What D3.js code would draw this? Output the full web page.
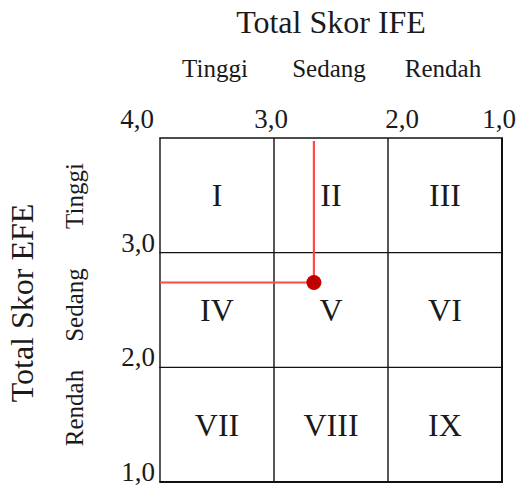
<!DOCTYPE html>
<html>
<head>
<meta charset="utf-8">
<script src="https://cdn.jsdelivr.net/npm/d3@7"></script>
<style>
  html, body { margin: 0; padding: 0; background: #fff; }
  svg text { font-family: "Liberation Serif", "Times New Roman", serif; fill: #1a1a1a; }
</style>
</head>
<body>
<svg id="chart" width="519" height="486"></svg>
<script>
// ---- data ----
const xTicks = [4, 3, 2, 1];
const xTickLabels = ["4,0", "3,0", "2,0", "1,0"];
const yTicks = [3, 2, 1];
const yTickLabels = ["3,0", "2,0", "1,0"];
const ifeCategories = ["Tinggi", "Sedang", "Rendah"];
const efeCategories = ["Tinggi", "Sedang", "Rendah"];
const cellLabels = ["I", "II", "III", "IV", "V", "VI", "VII", "VIII", "IX"];
const ifeScore = [2.65];
const efeScore = [2.74];
const xTitle = "Total Skor IFE";
const yTitle = "Total Skor EFE";

// ---- layout ----
const svg = d3.select("#chart");
const x = d3.scaleLinear().domain([4, 1]).range([160, 502]);
const y = d3.scaleLinear().domain([4, 1]).range([138, 482]);
const bounds = [4, 3, 2, 1];

// grid cells
const cells = [];
for (let r = 0; r < 3; r++) for (let c = 0; c < 3; c++) {
  cells.push({ r, c, label: cellLabels[r * 3 + c] });
}

const g = svg.append("g");

// grid lines
g.selectAll("line.v").data(bounds).enter().append("line")
  .attr("x1", d => x(d)).attr("x2", d => x(d))
  .attr("y1", y(4)).attr("y2", y(1))
  .attr("stroke", "#111").attr("stroke-width", (d, i) => (i === 3 ? 2 : 1.4));
g.selectAll("line.h").data(bounds).enter().append("line")
  .attr("y1", d => y(d)).attr("y2", d => y(d))
  .attr("x1", x(4) - 0.7).attr("x2", x(1) + 1)
  .attr("stroke", "#111").attr("stroke-width", (d, i) => (i === 3 ? 1.8 : 1.4));

// cell labels
g.selectAll("text.cell").data(cells).enter().append("text")
  .attr("x", d => (x(bounds[d.c]) + x(bounds[d.c + 1])) / 2)
  .attr("y", d => (y(bounds[d.r]) + y(bounds[d.r + 1])) / 2 + 11)
  .attr("text-anchor", "middle")
  .attr("font-size", 32)
  .text(d => d.label);

// x tick labels
const xDx = [-6, -3, 14, -3];
const xAnchor = ["end", "middle", "middle", "middle"];
g.selectAll("text.xt").data(xTicks).enter().append("text")
  .attr("x", (d, i) => x(d) + xDx[i])
  .attr("y", 128)
  .attr("text-anchor", (d, i) => xAnchor[i])
  .attr("font-size", 27)
  .text((d, i) => xTickLabels[i]);

// y tick labels
g.selectAll("text.yt").data(yTicks).enter().append("text")
  .attr("x", x(4) - 5)
  .attr("y", d => y(d) - 1)
  .attr("text-anchor", "end")
  .attr("font-size", 27)
  .text((d, i) => yTickLabels[i]);

// IFE category labels (top)
g.selectAll("text.ifecat").data(ifeCategories).enter().append("text")
  .attr("x", (d, i) => (x(bounds[i]) + x(bounds[i + 1])) / 2 - 2)
  .attr("y", 77)
  .attr("text-anchor", "middle")
  .attr("font-size", 25)
  .text(d => d);

// EFE category labels (left, rotated)
const efeCy = [196, 305, 408];
g.selectAll("text.efecat").data(efeCategories).enter().append("text")
  .attr("transform", (d, i) => `translate(83,${efeCy[i]}) rotate(-90)`)
  .attr("text-anchor", "middle")
  .attr("font-size", 25)
  .text(d => d);

// titles
g.append("text").attr("x", 331).attr("y", 33)
  .attr("text-anchor", "middle").attr("font-size", 32).text(xTitle);
g.append("text").attr("transform", "translate(33,303) rotate(-90)")
  .attr("text-anchor", "middle").attr("font-size", 32).text(yTitle);

// position lines and point
const px = x(ifeScore[0]), py = y(efeScore[0]);
g.append("line").attr("x1", px).attr("x2", px).attr("y1", y(4) + 3).attr("y2", py)
  .attr("stroke", "#ff4a4a").attr("stroke-width", 2.2);
g.append("line").attr("x1", x(4)).attr("x2", px).attr("y1", py).attr("y2", py)
  .attr("stroke", "#ff4a4a").attr("stroke-width", 2.2);
g.selectAll("circle.pt").data(ifeScore).enter().append("circle")
  .attr("cx", d => x(d)).attr("cy", (d, i) => y(efeScore[i]))
  .attr("r", 7.5).attr("fill", "#c00000");
</script>
</body>
</html>
